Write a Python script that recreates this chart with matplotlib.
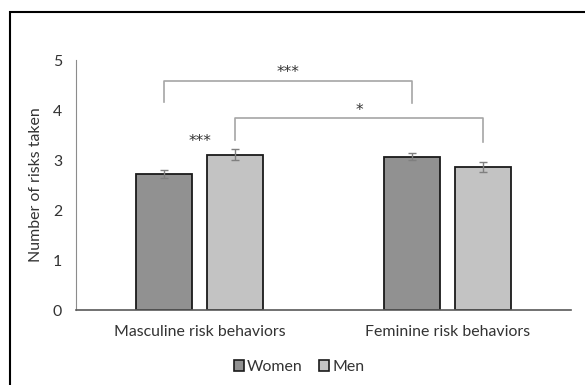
import matplotlib as mpl
import matplotlib.pyplot as plt
from matplotlib.patches import Rectangle
import numpy as np

mpl.use("Agg")
plt.rcParams['font.family'] = ['Lato', 'DejaVu Sans']

categories = ["Masculine risk behaviors", "Feminine risk behaviors"]
series_names = ["Women", "Men"]
women_means = [2.73, 3.07]
men_means = [3.11, 2.87]
women_err = [0.08, 0.07]
men_err = [0.11, 0.10]
y_ticks = [0, 1, 2, 3, 4, 5]

COLOR_WOMEN = "#919191"
COLOR_MEN = "#c3c3c3"
COLOR_BRACKET = "#a6a6a6"
TEXT_COLOR = "#333333"
FS = 11.4

fig = plt.figure(figsize=(5.85, 3.85), dpi=100)
ax = fig.add_axes([76 / 585, 75 / 385, 495 / 585, 250 / 385])

x = np.arange(len(categories))
width = 0.226
offset = 0.143
err_kw = dict(ecolor="#7f7f7f", capsize=3, elinewidth=1, capthick=1)
ax.bar(x - offset, women_means, width, yerr=women_err, color=COLOR_WOMEN,
       edgecolor="#1a1a1a", linewidth=1.3, label=series_names[0], error_kw=err_kw)
ax.bar(x + offset, men_means, width, yerr=men_err, color=COLOR_MEN,
       edgecolor="#1a1a1a", linewidth=1.3, label=series_names[1], error_kw=err_kw)

ax.set_xlim(-0.5, 1.5)
ax.set_ylim(0, 5)
ax.set_yticks(y_ticks)
ax.set_xticks(x)
ax.set_xticklabels(categories)
ax.tick_params(axis="both", length=0, labelsize=FS, labelcolor=TEXT_COLOR)
ax.tick_params(axis="y", pad=10)
ax.tick_params(axis="x", pad=11)
ax.set_ylabel("Number of risks taken", fontsize=FS, color=TEXT_COLOR, labelpad=7)

for side in ["top", "right"]:
    ax.spines[side].set_visible(False)
ax.spines["left"].set_color("#8c8c8c")
ax.spines["left"].set_linewidth(0.8)
ax.spines["bottom"].set_color("#595959")
ax.spines["bottom"].set_linewidth(1.2)


def bracket(x1, x2, y_top, y1_leg, y2_leg, label, label_y):
    ax.plot([x1, x1, x2, x2], [y1_leg, y_top, y_top, y2_leg],
            color=COLOR_BRACKET, linewidth=1.2, clip_on=False)
    ax.text((x1 + x2) / 2, label_y, label, ha="center", va="center",
            fontsize=11, color=TEXT_COLOR, family="DejaVu Sans")


bracket(x[0] - offset, x[1] - offset, 4.59, 4.15, 4.14, "***", 4.76)
bracket(x[0] + offset, x[1] + offset, 3.85, 3.40, 3.37, "*", 3.99)
ax.text(x[0], 3.37, "***", ha="center", va="center", fontsize=11,
        color=TEXT_COLOR, family="DejaVu Sans")

handles = [Rectangle((0, 0), 1, 1, facecolor=c, edgecolor="#1a1a1a", linewidth=1.2)
           for c in (COLOR_WOMEN, COLOR_MEN)]
fig.legend(handles, series_names, loc="center", bbox_to_anchor=(299 / 585, 18 / 385),
           ncol=2, frameon=False, fontsize=FS, handlelength=0.65, handleheight=0.65,
           handletextpad=0.2, columnspacing=1.0, labelcolor=TEXT_COLOR)

fig.patches.append(Rectangle((9.5 / 585, -0.1), 2, (373 / 385) + 0.1,
                             transform=fig.transFigure, fill=False,
                             edgecolor="black", linewidth=1.5))

fig.savefig("out.png", dpi=100)
plt.close(fig)
